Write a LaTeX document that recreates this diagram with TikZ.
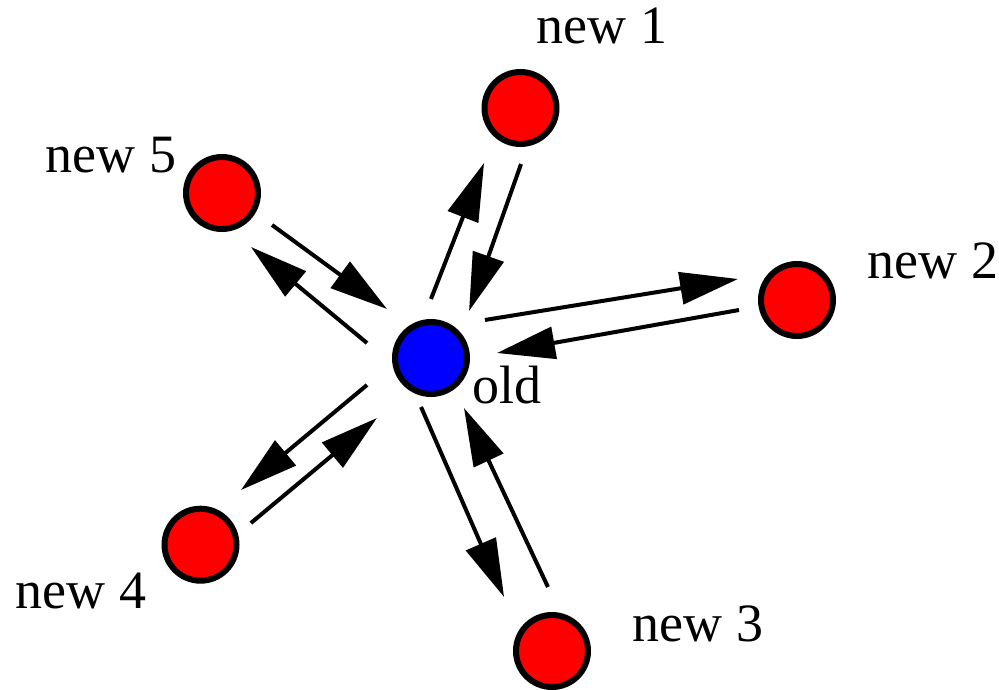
\documentclass[tikz,border=0pt]{standalone}
\usepackage{fontspec}
\setmainfont{Liberation Serif}
\usetikzlibrary{arrows.meta,calc}
\tikzset{
  site/.style={circle, draw=black, line width=6pt, minimum size=72pt, inner sep=0pt},
  newsite/.style={site, fill=red},
  oldsite/.style={site, fill=blue},
  lbl/.style={font=\fontsize{54}{60}\selectfont, inner sep=0pt, anchor=base},
  flow/.style={line width=4pt, -{Triangle[length=58pt,width=32pt]}},
}
\begin{document}
\begin{tikzpicture}[x=1pt,y=-1pt]
\useasboundingbox (0,0) rectangle (999,690);

% sites
\node[oldsite] (old) at (431,358) {};
\node[newsite] (n1) at (520.5,108) {};
\node[newsite] (n2) at (797,300) {};
\node[newsite] (n3) at (552,651) {};
\node[newsite] (n4) at (200.5,544.7) {};
\node[newsite] (n5) at (222,193) {};

% labels
\node[lbl] (lold) at (507,403) {old};
\node[lbl] (l1) at (602,44) {new 1};
\node[lbl] (l2) at (933,278) {new 2};
\node[lbl] (l3) at (698,641) {new 3};
\node[lbl] (l4) at (81,608) {new 4};
\node[lbl] (l5) at (111,172) {new 5};

% old <-> new 1
\draw[flow] ($(old)!55.6pt!(n1)!19.9pt!90:(n1)$) -- ($(old)!201.5pt!(n1)!15.8pt!90:(n1)$);
\draw[flow] ($(old)!213pt!(n1)!19.4pt!-90:(n1)$) -- ($(old)!57.1pt!(n1)!20pt!-90:(n1)$);

% old <-> new 2
\draw[flow] ($(old)!59.3pt!(n2)!29.1pt!90:(n2)$) -- ($(old)!315.6pt!(n2)!30pt!90:(n2)$);
\draw[flow] ($(old)!311.7pt!(n2)!0.8pt!-90:(n2)$) -- ($(old)!66pt!(n2)!5.4pt!-90:(n2)$);

% old <-> new 3
\draw[flow] ($(old)!41.5pt!(n3)!27.9pt!-90:(n3)$) -- ($(old)!248.8pt!(n3)!23.7pt!-90:(n3)$);
\draw[flow] ($(old)!256.3pt!(n3)!20.7pt!90:(n3)$) -- ($(old)!58.8pt!(n3)!11.4pt!90:(n3)$);

% old <-> new 4
\draw[flow] ($(old)!66.7pt!(n4)!19.3pt!-90:(n4)$) -- ($(old)!230.7pt!(n4)!17pt!-90:(n4)$);
\draw[flow] ($(old)!243.8pt!(n4)!14.9pt!90:(n4)$) -- ($(old)!79.8pt!(n4)!12.6pt!90:(n4)$);

% old <-> new 5
\draw[flow] ($(old)!59.5pt!(n5)!27.9pt!90:(n5)$) -- ($(old)!210.1pt!(n5)!24.4pt!90:(n5)$);
\draw[flow] ($(old)!207.2pt!(n5)!5.9pt!-90:(n5)$) -- ($(old)!64.9pt!(n5)!11.2pt!-90:(n5)$);
\end{tikzpicture}
\end{document}
